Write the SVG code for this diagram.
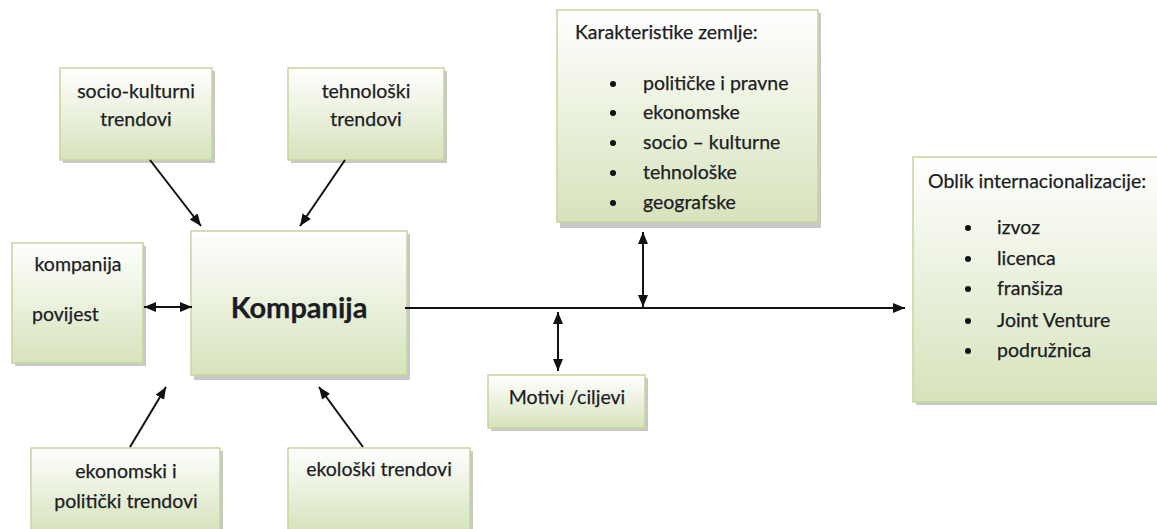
<svg xmlns="http://www.w3.org/2000/svg" width="1157" height="529" viewBox="0 0 1157 529">
<style>
.box{fill:url(#g);stroke:#c3d69b;stroke-width:1.5}
.sh{fill:#9a9a9a;opacity:0.55}
text{font-family:Lato,"Open Sans","Liberation Sans",sans-serif;font-size:19.5px;fill:#1c1c24;stroke:#1c1c24;stroke-width:0.25}
.c{text-anchor:middle}
.big{font-size:29px;font-weight:bold}
.ln{stroke:#111;stroke-width:2;fill:none}
.bl{fill:#111}
</style>
<defs>
<linearGradient id="g" x1="0" y1="0" x2="0" y2="1">
<stop offset="0" stop-color="#ffffff"/>
<stop offset="1" stop-color="#d6e3bc"/>
</linearGradient>
<marker id="ae" markerUnits="userSpaceOnUse" markerWidth="12" markerHeight="12" viewBox="0 0 12 12" refX="12" refY="6" orient="auto">
<path d="M0,1 L12,6 L0,11 Z" fill="#111"/>
</marker>
<marker id="as" markerUnits="userSpaceOnUse" markerWidth="12" markerHeight="12" viewBox="0 0 12 12" refX="0" refY="6" orient="auto">
<path d="M12,1 L0,6 L12,11 Z" fill="#111"/>
</marker>
</defs>

<g id="socio">
<rect class="sh" x="63" y="71" width="152" height="92"/>
<rect class="box" x="60" y="68" width="152" height="92"/>
<text class="c" x="136" y="98">socio-kulturni</text>
<text class="c" x="136" y="126">trendovi</text>
</g>

<g id="tehnoloski">
<rect class="sh" x="291" y="71" width="156" height="92"/>
<rect class="box" x="288" y="68" width="156" height="92"/>
<text class="c" x="366" y="98">tehnološki</text>
<text class="c" x="366" y="126">trendovi</text>
</g>

<g id="povijest">
<rect class="sh" x="15" y="246" width="131" height="120"/>
<rect class="box" x="12" y="243" width="131" height="120"/>
<text class="c" x="78" y="271">kompanija</text>
<text x="32" y="321">povijest</text>
</g>

<g id="kompanija">
<rect class="sh" x="194" y="234" width="216" height="146"/>
<rect class="box" x="191" y="231" width="216" height="144"/>
<text class="c big" x="299" y="318">Kompanija</text>
</g>

<g id="karakteristike">
<rect class="sh" x="560" y="13" width="261" height="215"/>
<rect class="box" x="557" y="10" width="261" height="212"/>
<text x="575" y="39">Karakteristike zemlje:</text>
<circle class="bl" cx="613" cy="84" r="3"/>
<text x="643" y="90">političke i pravne</text>
<circle class="bl" cx="613" cy="113" r="3"/>
<text x="643" y="119">ekonomske</text>
<circle class="bl" cx="613" cy="143" r="3"/>
<text x="643" y="149">socio – kulturne</text>
<circle class="bl" cx="613" cy="173" r="3"/>
<text x="643" y="179">tehnološke</text>
<circle class="bl" cx="613" cy="203" r="3"/>
<text x="643" y="209">geografske</text>
</g>

<g id="oblik">
<rect class="sh" x="916" y="160" width="250" height="245"/>
<rect class="box" x="913" y="157" width="250" height="245"/>
<text x="928" y="188">Oblik internacionalizacije:</text>
<circle class="bl" cx="968" cy="228" r="3"/>
<text x="997" y="234">izvoz</text>
<circle class="bl" cx="968" cy="259" r="3"/>
<text x="997" y="265">licenca</text>
<circle class="bl" cx="968" cy="289" r="3"/>
<text x="997" y="295">franšiza</text>
<circle class="bl" cx="968" cy="321" r="3"/>
<text x="997" y="327">Joint Venture</text>
<circle class="bl" cx="968" cy="351" r="3"/>
<text x="997" y="357">podružnica</text>
</g>

<g id="motivi">
<rect class="sh" x="491" y="378" width="157" height="53"/>
<rect class="box" x="488" y="375" width="157" height="53"/>
<text class="c" x="567" y="404">Motivi /ciljevi</text>
</g>

<g id="ekonomski">
<rect class="sh" x="34" y="451" width="189" height="82"/>
<rect class="box" x="31" y="448" width="189" height="82"/>
<text class="c" x="126" y="478">ekonomski i</text>
<text class="c" x="126" y="508">politički trendovi</text>
</g>

<g id="ekoloski">
<rect class="sh" x="291" y="451" width="182" height="82"/>
<rect class="box" x="288" y="448" width="182" height="82"/>
<text class="c" x="379" y="476">ekološki trendovi</text>
</g>

<g id="connectors">
<line class="ln" x1="150" y1="160" x2="201" y2="226" marker-end="url(#ae)"/>
<line class="ln" x1="345" y1="160" x2="300" y2="226" marker-end="url(#ae)"/>
<line class="ln" x1="130" y1="447" x2="166" y2="387" marker-end="url(#ae)"/>
<line class="ln" x1="363" y1="447" x2="319" y2="387" marker-end="url(#ae)"/>
<line class="ln" x1="144" y1="307" x2="192" y2="307" marker-start="url(#as)" marker-end="url(#ae)"/>
<line class="ln" x1="405" y1="308" x2="905" y2="308" marker-end="url(#ae)"/>
<line class="ln" x1="643" y1="232" x2="643" y2="307" marker-start="url(#as)" marker-end="url(#ae)"/>
<line class="ln" x1="558" y1="312" x2="558" y2="371" marker-start="url(#as)" marker-end="url(#ae)"/>
</g>
</svg>
